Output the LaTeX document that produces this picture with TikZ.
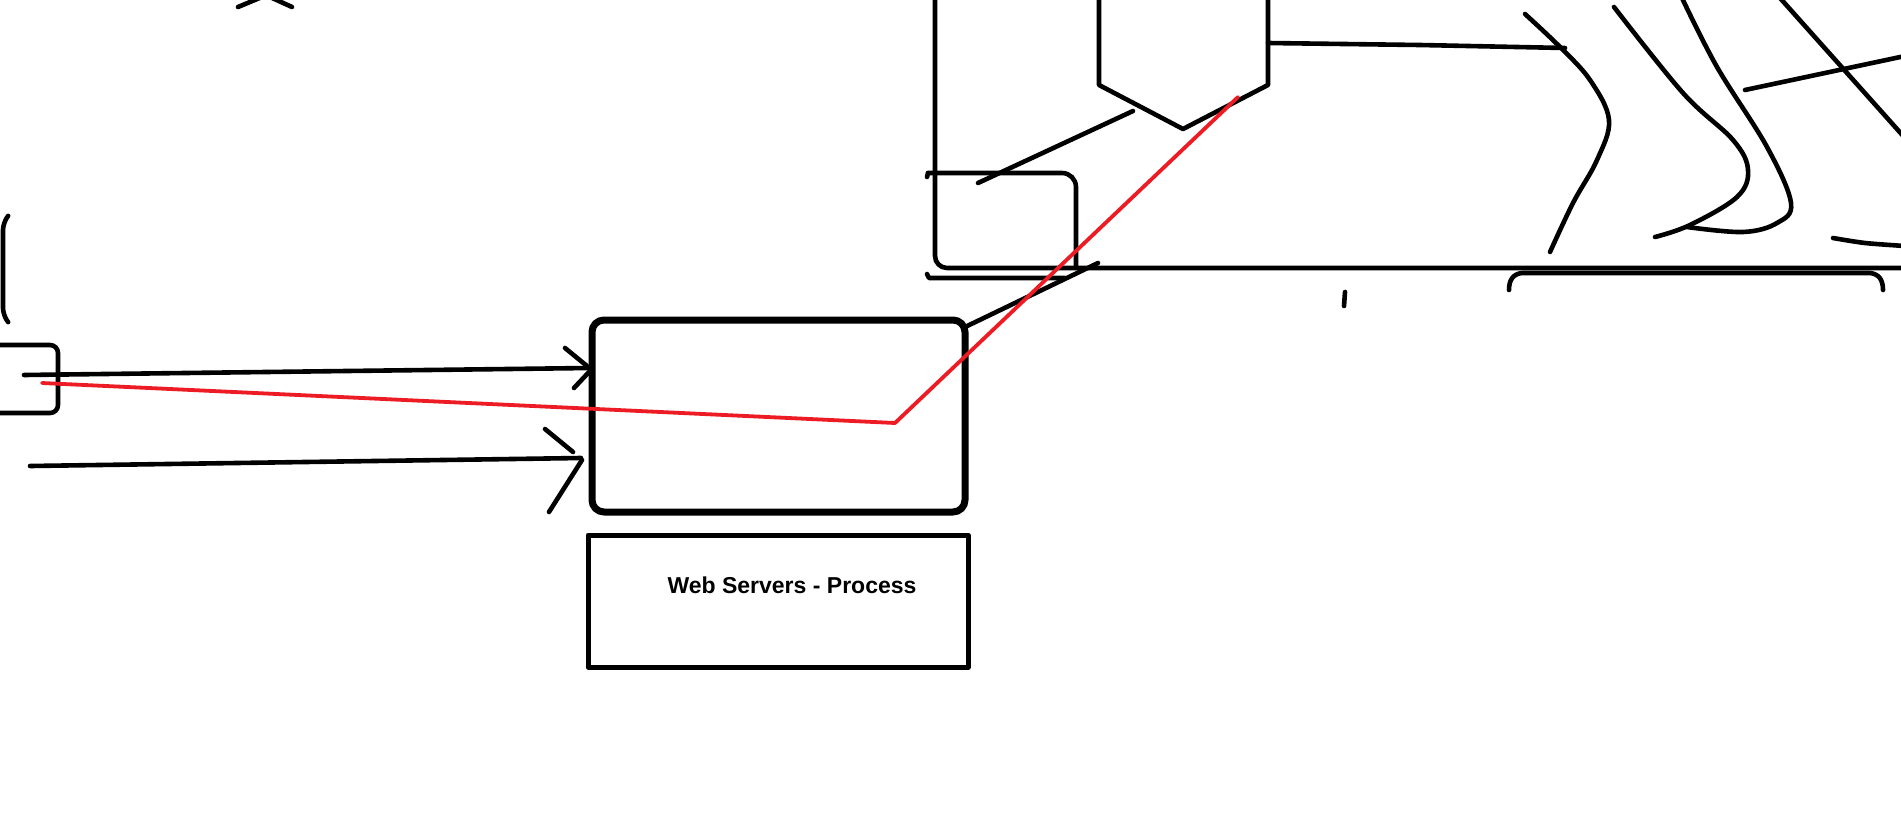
\documentclass[tikz,border=0pt]{standalone}
\usepackage{fontspec}
\setmainfont{Liberation Sans}
\begin{document}
\begin{tikzpicture}[x=1pt,y=-1pt,line cap=round,line join=round,
  ink/.style={draw=black,line width=4.6pt},
  thickbox/.style={draw=black,line width=7pt,rounded corners=12pt},
  redline/.style={draw=paintred,line width=3.8pt},
  lbl/.style={font=\fontsize{23}{27}\selectfont\bfseries}]
\definecolor{paintred}{RGB}{237,28,36}
\useasboundingbox (0,0) rectangle (1901,822);
\clip (0,0) rectangle (1901,822);
\fill[white] (0,0) rectangle (1901,822);

% top chevron
\draw[ink] (238,7) -- (262,-3);
\draw[ink] (270,-3) -- (292,7);

% left bracket (cut-off box)
\draw[ink,rounded corners=8pt] (8,216) -- (3,222) -- (3,316) -- (8,322);

% small left box
\node[ink,rounded corners=8pt,minimum width=90pt,minimum height=68pt,inner sep=0pt] (src) at (13,379) {};

% main rounded box
\node[thickbox,minimum width=373pt,minimum height=192pt,inner sep=0pt] (web) at (778.5,416) {};

% text box
\node[draw=black,line width=5pt,minimum width=380pt,minimum height=132pt,inner sep=0pt] (txtbox) at (778,601) {};
\node[lbl] (title) at (792,585) {Web Servers - Process};

% arrows with open heads
\coordinate (a1s) at (24,375);
\coordinate (a1e) at (589,368);
\draw[ink] (a1s) -- (a1e);
\draw[ink] (565,348) -- (587,366);
\draw[ink] (589,372) -- (574,388);

\coordinate (a2s) at (30,466);
\coordinate (a2e) at (581,458);
\draw[ink] (a2s) -- (a2e);
\draw[ink] (545,429) -- (573,452);
\draw[ink] (582,460) -- (549,512);

% big frame on the right
\draw[ink,rounded corners=12pt] (935,-5) -- (935,268) -- (1905,268);
% small rounded box inside frame
\draw[ink,rounded corners=14pt] (928,173) -- (1076,173) -- (1076,268);
\draw[ink] (927,177) -- (928,173);
\draw[ink] (927,274) -- (929,278) -- (1065,278);

% diagonal from main box corner
\coordinate (wc) at (963,328);
\coordinate (dg) at (1098,263);
\draw[ink] (wc) -- (dg);

% hexagon-like shape
\draw[ink] (1099,-5) -- (1099,85) -- (1183,129) -- (1268,85) -- (1268,-5);
\draw[ink] (1268,43) -- (1420,45) -- (1565,48);
\draw[ink] (1133,111) -- (978,183);

% small tick
\draw[ink] (1345,292) -- (1344,306);

% bracket below frame line
\draw[ink] (1509,290) .. controls (1509,280) and (1513,274) .. (1522,273) -- (1870,273) .. controls (1879,274) and (1883,280) .. (1883,290);

% curves on the right
\draw[ink] plot[smooth,tension=0.6] coordinates {(1525,14) (1560,47) (1590,80) (1609,120) (1597,160) (1573,203) (1550,252)};
\draw[ink] plot[smooth,tension=0.6] coordinates {(1614,7) (1683,93) (1733,140) (1748,170) (1737,197) (1690,225) (1655,237)};
\draw[ink] plot[smooth,tension=0.6] coordinates {(1682,-2) (1717,67) (1767,147) (1791,203) (1777,223) (1743,232) (1687,227)};
\draw[ink] (1780,-2) -- (1905,138);
\draw[ink] (1745,90) -- (1905,56);
\draw[ink] plot[smooth] coordinates {(1833,238) (1865,243) (1905,246)};

% red path
\coordinate (r1) at (42,383);
\coordinate (r2) at (895,423);
\coordinate (r3) at (1238,97);
\draw[redline] (r1) -- (r2) -- (r3);
\end{tikzpicture}
\end{document}
